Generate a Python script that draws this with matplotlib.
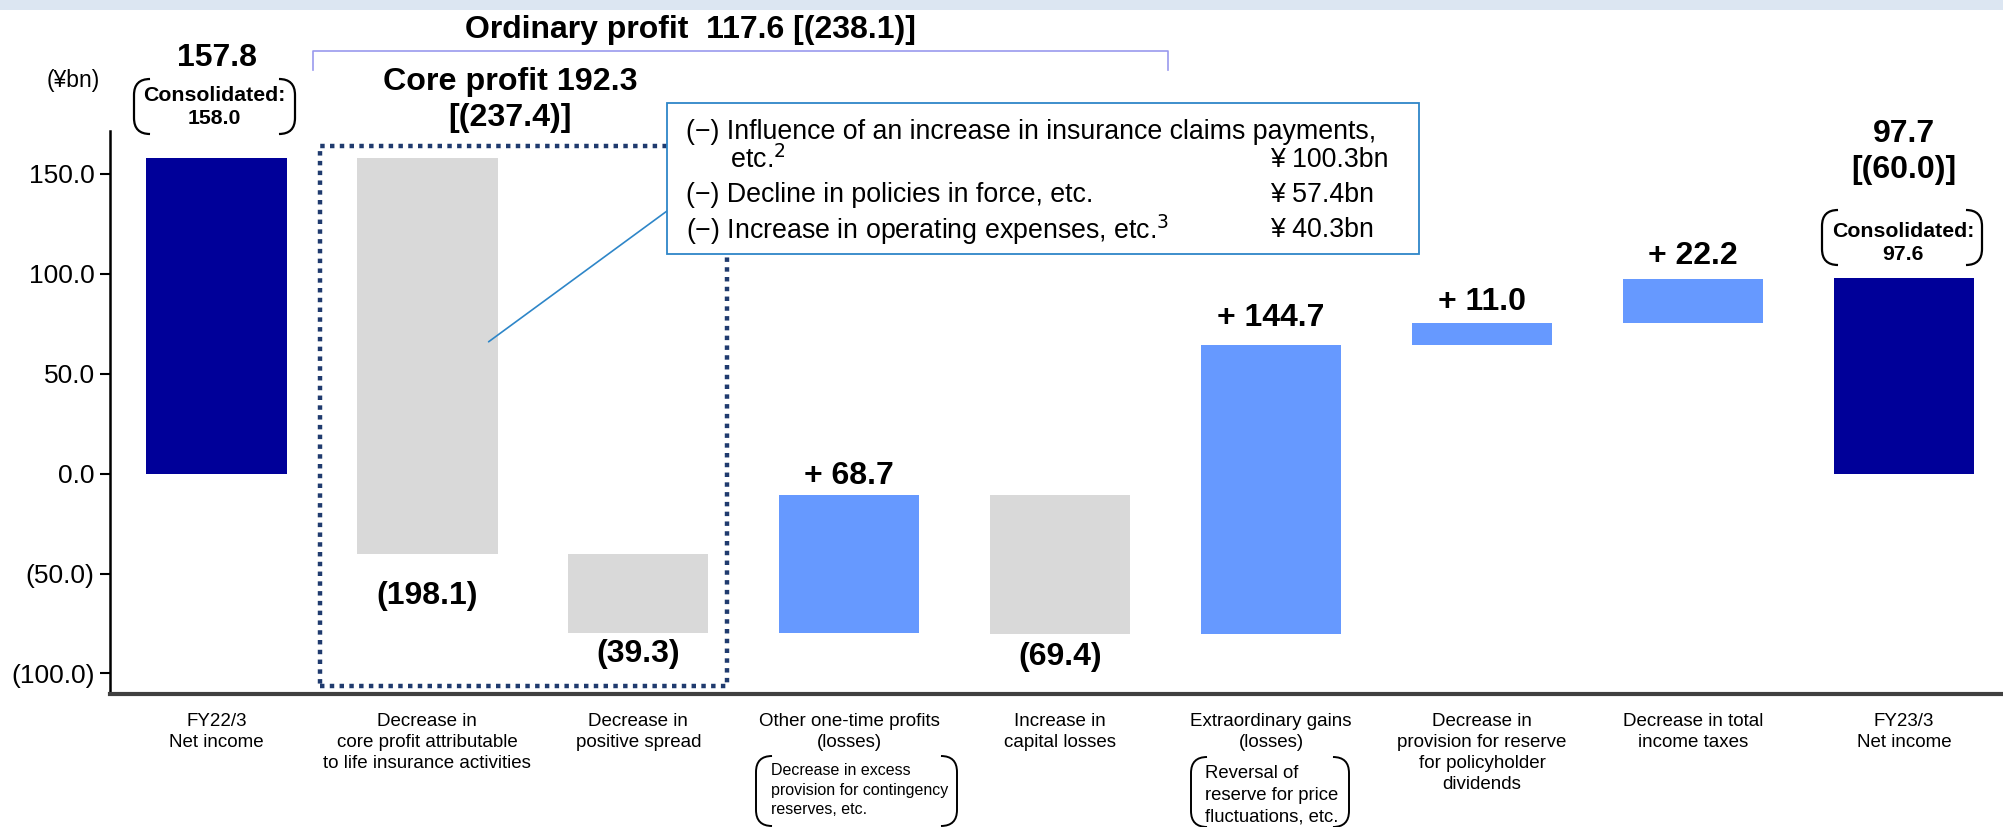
import matplotlib
matplotlib.use("Agg")
import matplotlib.pyplot as plt
from matplotlib.path import Path
from matplotlib.patches import PathPatch, Rectangle

plt.rcParams["font.family"] = ["Liberation Sans", "DejaVu Sans"]

# ---- data ----
categories = ["FY22/3\nNet income",
              "Decrease in\ncore profit attributable\nto life insurance activities",
              "Decrease in\npositive spread",
              "Other one-time profits\n(losses)",
              "Increase in\ncapital losses",
              "Extraordinary gains\n(losses)",
              "Decrease in\nprovision for reserve\nfor policyholder\ndividends",
              "Decrease in total\nincome taxes",
              "FY23/3\nNet income"]
changes = [157.8, -198.1, -39.3, 68.7, -69.4, 144.7, 11.0, 22.2, 97.7]
kinds = ["total", "down", "down", "up", "down", "up", "up", "up", "total"]
value_labels = ["157.8", "(198.1)", "(39.3)", "+ 68.7", "(69.4)",
                "+ 144.7", "+ 11.0", "+ 22.2", "97.7\n[(60.0)]"]
yticks = [-100, -50, 0, 50, 100, 150]

colors = {"total": "#000099", "down": "#D9D9D9", "up": "#6699FF"}

# waterfall bottoms
bottoms = []
level = 0.0
for c, k in zip(changes, kinds):
    if k == "total":
        bottoms.append(0.0)
        level = c
    else:
        bottoms.append(level)
        level += c

W, H = 2003.0, 827.0
def fx(px):
    return px / W
def fy(py):
    return 1 - py / H

fig = plt.figure(figsize=(20.03, 8.27), dpi=100)
fig.patches.append(Rectangle((0, 0.988), 1, 0.012, transform=fig.transFigure,
                             facecolor="#DCE6F2", edgecolor="none"))
ax = fig.add_axes([fx(110), 0.1608, 1 - fx(110), 0.6808])

x = list(range(len(categories)))
ax.bar(x, changes, bottom=bottoms, width=0.665,
       color=[colors[k] for k in kinds], edgecolor="none")

ax.set_xlim(-0.505, 8.47)
ax.set_ylim(-110.3, 171.5)
ax.set_yticks(yticks)
ax.set_yticklabels([f"{v:.1f}" if v >= 0 else f"({-v:.1f})" for v in yticks],
                   fontsize=19)
ax.tick_params(axis="y", length=7, width=1.5, pad=4)
ax.set_xticks([])
for s in ["top", "right"]:
    ax.spines[s].set_visible(False)
ax.spines["left"].set_linewidth(1.8)
ax.spines["bottom"].set_linewidth(3)
ax.spines["bottom"].set_color("#404040")

# category labels
for i, lab in enumerate(categories):
    ax.text(i, -120, lab, ha="center", va="top", fontsize=13.5,
            linespacing=1.3)

# value labels (centre y in data units)
label_y = [208.0, -61.4, -90.1, -1.3, -92.0, 78.0, 85.7, 108.7, 161.0]
for i, (y, t) in enumerate(zip(label_y, value_labels)):
    ax.text(i, y, t, ha="center", va="center", fontsize=23, fontweight="bold",
            linespacing=1.25)

def bracket(x0, x1, y0, y1, lw=1.6, color="black", r=0.008):
    # rounded parentheses in figure fraction coords
    ry = r * W / H
    left = Path([(x0 + r, y1), (x0, y1), (x0, y1 - ry), (x0, y0 + ry), (x0, y0), (x0 + r, y0)],
                [Path.MOVETO, Path.CURVE3, Path.CURVE3, Path.LINETO, Path.CURVE3, Path.CURVE3])
    right = Path([(x1 - r, y1), (x1, y1), (x1, y1 - ry), (x1, y0 + ry), (x1, y0), (x1 - r, y0)],
                 [Path.MOVETO, Path.CURVE3, Path.CURVE3, Path.LINETO, Path.CURVE3, Path.CURVE3])
    for p in (left, right):
        fig.patches.append(PathPatch(p, transform=fig.transFigure, fill=False,
                                     lw=lw, edgecolor=color))

# consolidated notes
bracket(fx(134), fx(295), fy(134), fy(79))
fig.text(fx(214), fy(107), "Consolidated:\n158.0", ha="center", va="center",
         fontsize=15.3, fontweight="bold", linespacing=1.25)
bracket(fx(1822), fx(1982), fy(265), fy(210))
fig.text(fx(1903), fy(243), "Consolidated:\n97.6", ha="center", va="center",
         fontsize=15.3, fontweight="bold", linespacing=1.25)

# sub notes under categories
bracket(fx(756), fx(957), fy(826), fy(756), lw=1.4)
fig.text(fx(771), fy(790), "Decrease in excess\nprovision for contingency\nreserves, etc.",
         ha="left", va="center", fontsize=11.5, linespacing=1.37)
bracket(fx(1191), fx(1349), fy(827), fy(757), lw=1.4)
fig.text(fx(1205), fy(795), "Reversal of\nreserve for price\nfluctuations, etc.",
         ha="left", va="center", fontsize=13.3, linespacing=1.37)

fig.text(fx(73), fy(81), "(\u00a5bn)", ha="center", va="center", fontsize=16.5)

# ordinary profit bracket
fig.text(fx(690), fy(30), "Ordinary profit  117.6 [(238.1)]", ha="center", va="center",
         fontsize=23, fontweight="bold")
fig.lines.append(plt.Line2D([fx(313), fx(313), fx(1168), fx(1168)],
                            [fy(70), fy(51), fy(51), fy(70)],
                            transform=fig.transFigure, color="#9999EE", lw=1.2))

# core profit dotted box
ax.add_patch(Rectangle((0.49, -106.5), 1.93, 270.5, fill=False, lw=3.2,
                       edgecolor="#1F3A6E", linestyle=(0, (1, 1.2)), clip_on=False))
fig.text(fx(510), fy(100), "Core profit 192.3\n[(237.4)]", ha="center", va="center",
         fontsize=23.2, fontweight="bold", linespacing=1.3)

# callout box
fig.patches.append(Rectangle((fx(667), fy(254)), fx(1419) - fx(667), (254 - 103) / H,
                             transform=fig.transFigure, facecolor="white",
                             edgecolor="#2E86C8", lw=1.3, zorder=3))
ax.annotate("", xy=(fx(667), fy(211)), xycoords="figure fraction",
            xytext=(1.29, 66), textcoords="data",
            arrowprops=dict(arrowstyle="-", color="#2E86C8", lw=1.2,
                            shrinkA=0, shrinkB=0))
box_left = ["(\u2212) Influence of an increase in insurance claims payments,",
            "      etc.$^{2}$",
            "(\u2212) Decline in policies in force, etc.",
            "(\u2212) Increase in operating expenses, etc.$^{3}$"]
box_right = ["", "\u00a5 100.3bn", "\u00a5 57.4bn", "\u00a5 40.3bn"]
box_y = [132, 160, 195, 230]
for left, right, py in zip(box_left, box_right, box_y):
    fig.text(fx(686), fy(py), left, ha="left", va="center", fontsize=19.3, zorder=4)
    if right:
        fig.text(fx(1270), fy(py), right, ha="left", va="center", fontsize=19.3, zorder=4)

fig.savefig("out.png", dpi=100)
